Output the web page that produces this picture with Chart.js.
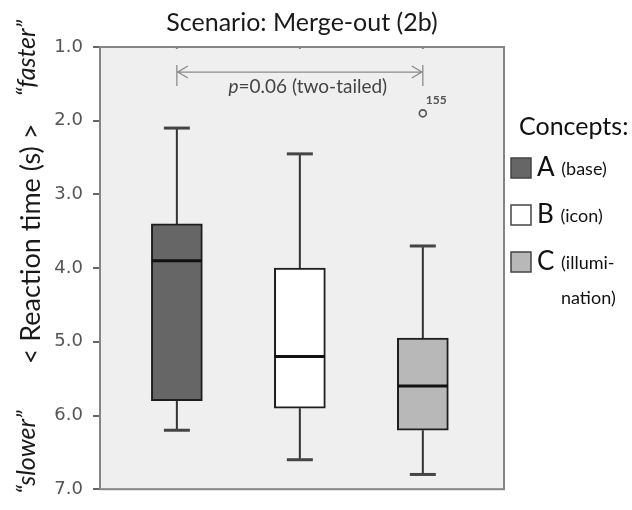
<!DOCTYPE html>
<html>
<head>
<meta charset="utf-8">
<script src="https://cdn.jsdelivr.net/npm/chart.js@4.4.1/dist/chart.umd.min.js"></script>
<style>
  html, body { margin: 0; padding: 0; background: #ffffff; }
  #wrap { width: 632px; height: 510px; }
</style>
</head>
<body>
<div id="wrap"><canvas id="chart" width="632" height="510"></canvas></div>
<script>
// categories and box plot values (reaction time in s)
const categories = ["A", "B", "C"];
const categoryNotes = ["(base)", "(icon)", "(illumi-"];
const whiskerTop = [2.1, 2.45, 3.7];
const boxTop = [3.4, 4.0, 4.95];
const medians = [3.9, 5.2, 5.6];
const boxBottom = [5.8, 5.9, 6.2];
const whiskerBottom = [6.2, 6.6, 6.8];

// outliers
const outlierCategory = [3];
const outlierValues = [1.9];
const outlierLabels = ["155"];

const yTicks = [1, 2, 3, 4, 5, 6, 7];
const boxColors = ["#666666", "#ffffff", "#b8b8b8"];

const FONT = "Lato, 'Open Sans', sans-serif";

// extra drawing: background, whiskers, medians, texts, legend
const boxExtras = {
    id: "boxExtras",
    beforeDraw(chart) {
        const { ctx, chartArea: a } = chart;
        ctx.save();
        ctx.fillStyle = "#efefef";
        ctx.fillRect(a.left, a.top, a.right - a.left, a.bottom - a.top);
        ctx.restore();
    },
    beforeDatasetsDraw(chart) {
        const { ctx, scales: { x, y } } = chart;
        ctx.save();
        categories.forEach((c, i) => {
            const cx = x.getPixelForValue(i + 1);
            ctx.strokeStyle = "#333333";
            ctx.lineWidth = 2;
            ctx.beginPath();
            ctx.moveTo(cx, y.getPixelForValue(whiskerTop[i]));
            ctx.lineTo(cx, y.getPixelForValue(boxTop[i]));
            ctx.moveTo(cx, y.getPixelForValue(boxBottom[i]));
            ctx.lineTo(cx, y.getPixelForValue(whiskerBottom[i]));
            ctx.stroke();
            ctx.strokeStyle = "#444444";
            ctx.lineWidth = 3;
            [whiskerTop[i], whiskerBottom[i]].forEach((v) => {
                const py = y.getPixelForValue(v);
                ctx.beginPath();
                ctx.moveTo(cx - 13, py);
                ctx.lineTo(cx + 13, py);
                ctx.stroke();
            });
        });
        ctx.restore();
    },
    afterDatasetsDraw(chart) {
        const { ctx, chartArea: a, scales: { x, y } } = chart;
        ctx.save();

        // medians
        ctx.strokeStyle = "#111111";
        ctx.lineWidth = 3;
        categories.forEach((c, i) => {
            const cx = x.getPixelForValue(i + 1);
            const py = y.getPixelForValue(medians[i]);
            ctx.beginPath();
            ctx.moveTo(cx - 25, py);
            ctx.lineTo(cx + 25, py);
            ctx.stroke();
        });

        // plot frame
        ctx.strokeStyle = "#858585";
        ctx.lineWidth = 2;
        ctx.strokeRect(a.left, a.top, a.right - a.left, a.bottom - a.top);
        categories.forEach((c, i) => {
            const cx = x.getPixelForValue(i + 1);
            ctx.beginPath();
            ctx.moveTo(cx, a.top);
            ctx.lineTo(cx, a.top + 2);
            ctx.stroke();
        });

        // outlier labels
        ctx.fillStyle = "#555555";
        ctx.font = "bold 12px " + FONT;
        ctx.textAlign = "left";
        ctx.textBaseline = "middle";
        outlierValues.forEach((v, i) => {
            ctx.fillText(outlierLabels[i], x.getPixelForValue(outlierCategory[i]) + 3, y.getPixelForValue(v) - 13);
        });

        // significance arrow between A and C
        const x1 = x.getPixelForValue(1), x2 = x.getPixelForValue(3);
        const ay = y.getPixelForValue(1.34);
        ctx.strokeStyle = "#8c8c8c";
        ctx.lineWidth = 1.3;
        ctx.beginPath();
        ctx.moveTo(x1, ay); ctx.lineTo(x2, ay);
        ctx.moveTo(x1, ay - 7); ctx.lineTo(x1, ay + 14);
        ctx.moveTo(x2, ay - 7); ctx.lineTo(x2, ay + 14);
        ctx.moveTo(x1 + 11, ay - 6); ctx.lineTo(x1 + 1, ay); ctx.lineTo(x1 + 11, ay + 6);
        ctx.moveTo(x2 - 11, ay - 6); ctx.lineTo(x2 - 1, ay); ctx.lineTo(x2 - 11, ay + 6);
        ctx.stroke();

        ctx.fillStyle = "#444444";
        ctx.textBaseline = "middle";
        const ty = y.getPixelForValue(1.54);
        ctx.font = "italic 19px " + FONT;
        const pW = ctx.measureText("p").width;
        ctx.font = "19px " + FONT;
        const rest = "=0.06 (two-tailed)";
        const rW = ctx.measureText(rest).width;
        const tx = (x1 + x2) / 2 + 8 - (pW + rW) / 2;
        ctx.font = "italic 19px " + FONT;
        ctx.textAlign = "left";
        ctx.fillText("p", tx, ty);
        ctx.font = "19px " + FONT;
        ctx.fillText(rest, tx + pW, ty);

        // title
        ctx.fillStyle = "#1a1a1a";
        ctx.font = "25px " + FONT;
        ctx.textAlign = "center";
        ctx.fillText("Scenario: Merge-out (2b)", (a.left + a.right) / 2, 23);

        // y axis title
        ctx.save();
        ctx.translate(31, 0);
        ctx.rotate(-Math.PI / 2);
        ctx.font = "27px " + FONT;
        ctx.fillText("< Reaction time (s) >", -244, 0);
        ctx.font = "italic 25px " + FONT;
        ctx.fillText("\u201Cfaster\u201D", -58, -4);
        ctx.fillText("\u201Cslower\u201D", -452, -4);
        ctx.restore();

        // legend
        ctx.textAlign = "left";
        ctx.fillStyle = "#111111";
        ctx.font = "25px " + FONT;
        ctx.fillText("Concepts:", a.right + 15, 127);
        categories.forEach((c, i) => {
            const ly = 168 + i * 47;
            ctx.fillStyle = boxColors[i];
            ctx.fillRect(a.right + 7, ly - 10, 20, 20);
            ctx.strokeStyle = "#444444";
            ctx.lineWidth = 1.5;
            ctx.strokeRect(a.right + 7, ly - 10, 20, 20);
            ctx.fillStyle = "#111111";
            ctx.font = "26px " + FONT;
            ctx.fillText(c, a.right + 33, ly);
            const cw = ctx.measureText(c + " ").width;
            ctx.font = "18px " + FONT;
            ctx.fillText(categoryNotes[i], a.right + 33 + cw, ly + 1);
        });
        ctx.font = "18px " + FONT;
        ctx.fillText("nation)", a.right + 57, 298);

        ctx.restore();
    }
};

const ctx = document.getElementById("chart").getContext("2d");
const chart = new Chart(ctx, {
    type: "bar",
    data: {
        datasets: [{
            label: "Concepts",
            data: categories.map((c, i) => ({ x: i + 1, y: [boxTop[i], boxBottom[i]] })),
            backgroundColor: boxColors,
            borderColor: "#1e1e1e",
            borderWidth: 2,
            borderSkipped: false,
            barThickness: 51,
            order: 2
        }, {
            type: "scatter",
            label: "Outliers",
            data: outlierValues.map((v, i) => ({ x: outlierCategory[i], y: v })),
            pointStyle: "circle",
            pointRadius: 3.5,
            borderColor: "#555555",
            borderWidth: 1.6,
            backgroundColor: "rgba(0,0,0,0)",
            order: 1
        }]
    },
    options: {
        responsive: false,
        animation: false,
        layout: { padding: { left: 0, right: 128, top: 47, bottom: 3 } },
        plugins: {
            legend: { display: false },
            tooltip: { enabled: false },
            title: { display: false }
        },
        scales: {
            x: {
                type: "linear",
                min: 0.375,
                max: 3.66,
                offset: false,
                display: false
            },
            y: {
                reverse: true,
                min: yTicks[0],
                max: yTicks[yTicks.length - 1],
                afterFit(scale) { scale.width = 100; },
                afterBuildTicks(scale) { scale.ticks = yTicks.map((v) => ({ value: v })); },
                border: { display: false },
                grid: {
                    drawOnChartArea: false,
                    drawTicks: true,
                    tickLength: 7,
                    color: "#666666",
                    lineWidth: 2
                },
                ticks: {
                    padding: 10,
                    color: "#555555",
                    font: { family: "'DejaVu Sans', sans-serif", size: 18 },
                    callback: (v) => Number(v).toFixed(1)
                }
            }
        }
    },
    plugins: [boxExtras]
});
</script>
</body>
</html>
